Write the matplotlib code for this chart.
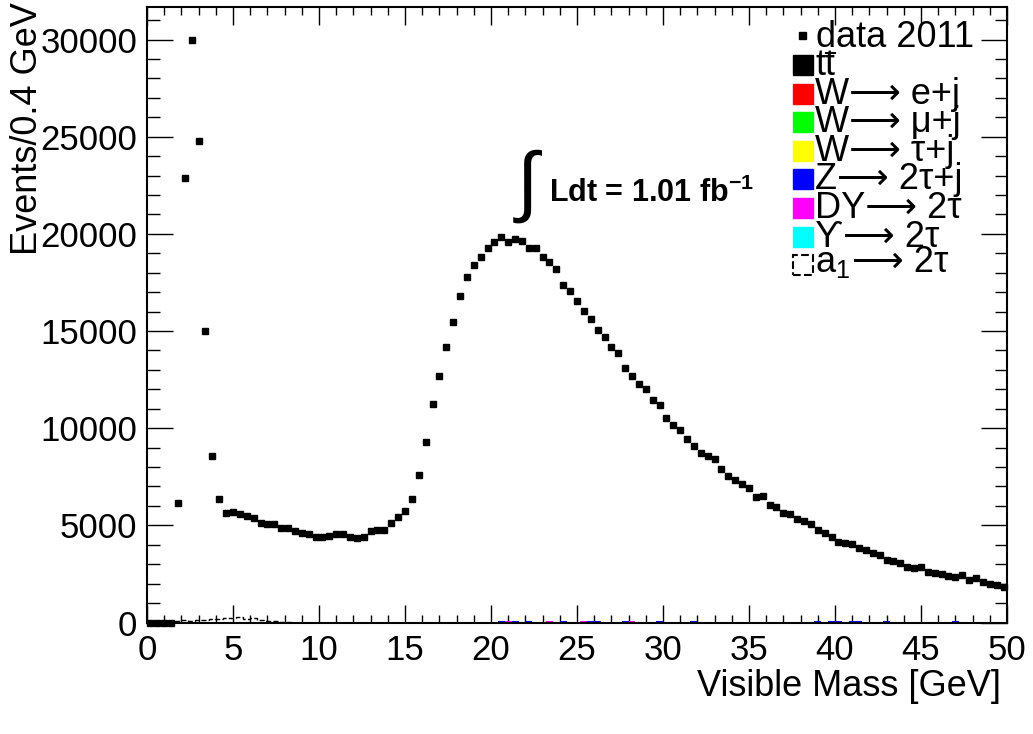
import matplotlib.pyplot as plt
import matplotlib.patches as mpatches
from matplotlib.lines import Line2D
import numpy as np

plt.rcParams['font.family'] = ['Liberation Sans', 'DejaVu Sans']
plt.rcParams['mathtext.fontset'] = 'custom'
plt.rcParams['mathtext.rm'] = 'Liberation Sans'
plt.rcParams['mathtext.it'] = 'Liberation Sans:italic'
plt.rcParams['mathtext.bf'] = 'Liberation Sans:bold'

# visible mass binning: 0-50 GeV in 0.4 GeV bins
edges = np.linspace(0, 50, 126)
centers = 0.5 * (edges[:-1] + edges[1:])

# data 2011, events per bin
data_counts = [
    0, 0, 0, 0, 6130, 22900, 30000, 24780, 15000, 8580,
    6340, 5650, 5700, 5580, 5480, 5390, 5100, 5070, 5050, 4880,
    4850, 4720, 4620, 4540, 4410, 4410, 4450, 4550, 4530, 4380,
    4370, 4410, 4720, 4760, 4760, 5100, 5410, 5740, 6350, 7590,
    9270, 11240, 12710, 14170, 15490, 16810, 17760, 18390, 18790, 19300,
    19570, 19850, 19570, 19730, 19620, 19260, 19250, 18800, 18530, 18180,
    17380, 17040, 16570, 16020, 15610, 15080, 14700, 14200, 13850, 13110,
    12680, 12250, 12000, 11430, 11190, 10540, 10160, 9900, 9420, 9080,
    8740, 8580, 8400, 7880, 7550, 7350, 7140, 6930, 6480, 6500,
    6030, 5930, 5620, 5580, 5340, 5240, 5050, 4760, 4620, 4410,
    4160, 4070, 4040, 3820, 3730, 3560, 3470, 3220, 3160, 3050,
    2870, 2820, 2870, 2580, 2560, 2510, 2410, 2360, 2440, 2190,
    2270, 2070, 1980, 1930, 1840,
]

# MC backgrounds (sparse: bin index, events)
tt_bins, tt_vals = [60, 88, 101], [20, 20, 20]
wej_bins, wej_vals = [55, 79, 99, 100, 103, 117], [40, 40, 50, 40, 40, 50]
wmj_bins, wmj_vals = [53, 64, 97, 102, 107], [40, 40, 40, 40, 40]
wtj_bins, wtj_vals = [39, 65, 69, 74], [40, 40, 40, 40]
ztt_bins = list(range(50, 125))
ztt_vals = [
    50, 55, 50, 45, 50, 55, 50, 45, 50, 45,
    50, 45, 40, 45, 50, 45, 40, 45, 40, 45,
    40, 40, 45, 40, 40, 35, 40, 40, 35, 40,
    35, 35, 40, 35, 35, 30, 35, 35, 30, 35,
    30, 30, 35, 30, 30, 30, 25, 30, 30, 25,
    30, 25, 25, 30, 25, 25, 25, 20, 25, 25,
    20, 25, 20, 20, 25, 20, 20, 20, 20, 20,
    20, 20, 15, 20, 20,
]
dy_bins, dy_vals = [47, 52, 58, 63, 70], [20, 20, 20, 20, 20]
ups_bins, ups_vals = [23, 24, 25], [15, 15, 15]

# a1 -> 2tau signal
a1_vals = np.zeros(125)
a1_bins = [4, 5, 6, 7, 8, 9, 10, 11, 12, 13, 14, 15, 16, 17, 18, 19, 20]
a1_counts = [60, 120, 90, 150, 110, 200, 160, 230, 250, 260, 180, 220, 140, 90, 70, 50, 40]
a1_vals[a1_bins] = a1_counts

ARROW = '\u27f6'
bkg_names = ['tt', 'W' + ARROW + ' e+j', 'W' + ARROW + ' \u03bc+j',
             'W' + ARROW + ' \u03c4+j', 'Z' + ARROW + ' 2\u03c4+j',
             'DY' + ARROW + ' 2\u03c4', '\u03d2' + ARROW + ' 2\u03c4']
bkg_colors = ['black', '#ff0000', '#00ff00', '#ffff00', '#0000ff', '#ff00ff', '#00ffff']
bkg_sparse = [(tt_bins, tt_vals), (wej_bins, wej_vals), (wmj_bins, wmj_vals),
              (wtj_bins, wtj_vals), (ztt_bins, ztt_vals), (dy_bins, dy_vals),
              (ups_bins, ups_vals)]

fig = plt.figure(figsize=(10.33, 7.34), dpi=100)
ax = fig.add_axes([0.1423, 0.1519, 0.8325, 0.8386])

bottom = np.zeros(125)
for (bins, vals), col in zip(bkg_sparse, bkg_colors):
    h = np.zeros(125)
    h[bins] = vals
    ax.bar(centers, h, width=0.4, bottom=bottom, color=col, linewidth=0, zorder=2)
    bottom += h

ax.stairs(a1_vals, edges, color='black', linestyle='--', linewidth=1, zorder=3)
ax.plot(centers, data_counts, 's', color='black', markersize=5, zorder=4,
        clip_on=False)

ax.set_xlim(0, 50)
ax.set_ylim(0, 31680)
ax.set_xticks(np.arange(0, 51, 5))
ax.set_xticks(np.arange(0, 51, 1), minor=True)
ax.set_yticks(np.arange(0, 31000, 5000))
ax.set_yticks(np.arange(0, 31680, 1000), minor=True)
ax.tick_params(which='both', direction='in', top=True, right=True, width=1)
ax.tick_params(axis='x', which='major', length=13, pad=8, labelsize=25)
ax.tick_params(axis='x', which='minor', length=6)
ax.tick_params(axis='y', which='major', length=19, pad=7, labelsize=25)
ax.tick_params(axis='y', which='minor', length=9)
for s in ax.spines.values():
    s.set_linewidth(1.5)

fig.text(0.027, 0.997, 'Events/0.4 GeV', rotation=90, ha='center', va='top', fontsize=26)
fig.text(1001 / 1033, 1 - 686 / 734, 'Visible Mass [GeV]', ha='right', va='center',
         fontsize=26)

# luminosity label
fig.text(527 / 1033, 1 - 186 / 734, '\u222b', ha='center', va='center', fontsize=56)
fig.text(549 / 1033, 1 - 202 / 734, 'Ldt = 1.01 fb$^{\\mathbf{-1}}$', ha='left',
         va='baseline', fontsize=22, fontweight='bold')

# legend
W, H = 1033, 734
fig.add_artist(mpatches.Rectangle((799 / W, 1 - 38.5 / H), 7 / W, 7 / H,
                                  transform=fig.transFigure, color='black'))
fig.text(816 / W, 1 - 47 / H, 'data 2011', ha='left', va='baseline', fontsize=26)
row_top = 55
for name, col in zip(bkg_names, bkg_colors):
    fig.add_artist(mpatches.Rectangle((793 / W, 1 - (row_top + 20) / H), 20 / W, 20 / H,
                                      transform=fig.transFigure, color=col))
    fig.text(815 / W, 1 - (row_top + 20) / H, name, ha='left', va='baseline', fontsize=26)
    row_top += 28.6
# bar over the second t of ttbar
fig.add_artist(Line2D([826 / W, 835 / W], [1 - 53 / H, 1 - 53 / H],
                      transform=fig.transFigure, color='black', linewidth=1.5))
fig.add_artist(mpatches.Rectangle((793 / W, 1 - (row_top + 20) / H), 20 / W, 20 / H,
                                  transform=fig.transFigure, fill=False,
                                  edgecolor='black', linestyle='--', linewidth=1.5))
fig.text(815 / W, 1 - (row_top + 17) / H, 'a$_1$', ha='left',
         va='baseline', fontsize=26)
fig.text(852 / W, 1 - (row_top + 17) / H, ARROW + ' 2\u03c4', ha='left',
         va='baseline', fontsize=26)

fig.savefig('out.png', dpi=100)
